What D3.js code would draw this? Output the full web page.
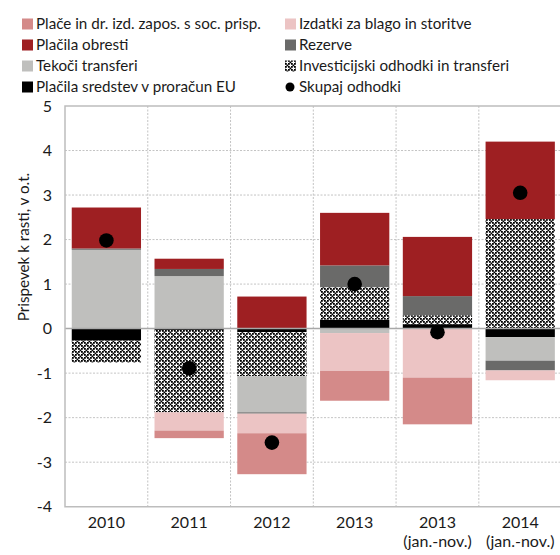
<!DOCTYPE html>
<html>
<head>
<meta charset="utf-8">
<script src="https://cdn.jsdelivr.net/npm/d3@7"></script>
<style>
  body { margin: 0; background: #fff; }
  svg { display: block; font-family: Lato, "Open Sans", sans-serif; }
</style>
</head>
<body>
<svg id="chart" width="560" height="555"></svg>
<script>
// Categories (years) and sub-labels
const categories = ["2010", "2011", "2012", "2013", "2013 jn", "2014 jn"];
const categoryLines = [["2010"], ["2011"], ["2012"], ["2013"], ["2013", "(jan.-nov.)"], ["2014", "(jan.-nov.)"]];

// Contributions to growth, percentage points (stacked from the baseline outward in this order)
const euPayments   = [-0.27, -0.03, -0.08,  0.20,  0.10, -0.19];
const investments  = [-0.49, -1.85, -0.99,  0.73,  0.20,  2.46];
const transfers    = [ 1.77,  1.18, -0.81, -0.10,  0.00, -0.53];
const reserves     = [ 0.03,  0.16, -0.03,  0.49,  0.43, -0.22];
const interest     = [ 0.92,  0.23,  0.72,  1.18,  1.33,  1.74];
const goods        = [ 0.00, -0.41, -0.44, -0.85, -1.10, -0.22];
const wages        = [ 0.00, -0.17, -0.92, -0.67, -1.05,  0.00];
const totalExpend  = [ 1.98, -0.89, -2.56,  1.00, -0.08,  3.05];

const yTicks = [5, 4, 3, 2, 1, 0, -1, -2, -3, -4];

const series = [
  { key: "eu",   name: "Plačila sredstev v proračun EU",     values: euPayments,  fill: "#000000" },
  { key: "inv",  name: "Investicijski odhodki in transferi", values: investments, fill: "url(#hatch)" },
  { key: "tek",  name: "Tekoči transferi",                   values: transfers,   fill: "#bfbfbd" },
  { key: "rez",  name: "Rezerve",                            values: reserves,    fill: "#6a6a69" },
  { key: "obr",  name: "Plačila obresti",                    values: interest,    fill: "#9e1f22" },
  { key: "izd",  name: "Izdatki za blago in storitve",       values: goods,       fill: "#ecc4c4" },
  { key: "pla",  name: "Plače in dr. izd. zapos. s soc. prisp.", values: wages,   fill: "#d48a89" }
];

const svg = d3.select("#chart");
const margin = { left: 65, top: 106, right: 561.6, bottom: 506.7 };

// Checkered pattern for investment spending
const defs = svg.append("defs");
const pat = defs.append("pattern").attr("id", "hatch")
  .attr("patternUnits", "userSpaceOnUse").attr("width", 6).attr("height", 6);
pat.append("rect").attr("width", 6).attr("height", 6).attr("fill", "#ffffff");
[[0,0],[3,0],[0,3],[3,3],[1.5,1.5],[4.5,4.5],[-1.5,4.5],[4.5,-1.5]].forEach(([px, py]) => {
  pat.append("rect").attr("x", px).attr("y", py).attr("width", 1.8).attr("height", 1.8).attr("fill", "#000");
});

const x = d3.scaleBand().domain(categories)
  .range([margin.left, margin.right])
  .paddingInner(0.163).paddingOuter(0.0815);
const y = d3.scaleLinear().domain([-4, 5]).range([margin.bottom, margin.top]);

// Horizontal grid
svg.append("g").selectAll("line").data(yTicks.filter(t => t !== 5 && t !== -4 && t !== 0)).join("line")
  .attr("x1", margin.left).attr("x2", 560)
  .attr("y1", d => y(d)).attr("y2", d => y(d))
  .attr("stroke", "#c4c4c4").attr("stroke-width", 1).attr("stroke-dasharray", "2,1.5");

// Vertical grid between categories
const step = x.step();
svg.append("g").selectAll("line").data(categories.slice(1)).join("line")
  .attr("x1", d => x(d) - step * x.paddingInner() / 2)
  .attr("x2", d => x(d) - step * x.paddingInner() / 2)
  .attr("y1", margin.top).attr("y2", margin.bottom)
  .attr("stroke", "#c4c4c4").attr("stroke-width", 1).attr("stroke-dasharray", "2,1.5");

// Stacked bars
const rows = categories.map((c, i) => {
  const r = { cat: c };
  series.forEach(s => { r[s.key] = s.values[i]; });
  return r;
});
const stack = d3.stack().keys(series.map(s => s.key)).offset(d3.stackOffsetDiverging);
const stacked = stack(rows);

svg.append("g").selectAll("g").data(stacked).join("g")
  .attr("fill", (d, i) => series[i].fill)
  .selectAll("rect").data(d => d).join("rect")
  .attr("x", d => x(d.data.cat))
  .attr("width", x.bandwidth())
  .attr("y", d => y(Math.max(d[0], d[1])))
  .attr("height", d => Math.abs(y(d[0]) - y(d[1])));

// Zero line
svg.append("line")
  .attr("x1", margin.left).attr("x2", 560)
  .attr("y1", y(0)).attr("y2", y(0))
  .attr("stroke", "#a8a8a8").attr("stroke-width", 1.5);

// Frame
svg.append("path")
  .attr("d", `M560,${margin.top}H${margin.left}V${margin.bottom}H560`)
  .attr("fill", "none").attr("stroke", "#bdbdbd").attr("stroke-width", 1.5);

// Total expenditure markers
svg.append("g").selectAll("circle").data(totalExpend).join("circle")
  .attr("cx", (d, i) => x(categories[i]) + x.bandwidth() / 2)
  .attr("cy", d => y(d))
  .attr("r", 7.3).attr("fill", "#000");

// Y axis labels
const yAxis = d3.axisLeft(y).tickValues(yTicks).tickFormat(d3.format("d")).tickSize(0).tickPadding(13);
const ya = svg.append("g").attr("transform", `translate(${margin.left},0)`).call(yAxis);
ya.select(".domain").remove();
ya.selectAll("text").attr("font-size", 16).attr("fill", "#1a1a1a")
  .attr("font-family", "Lato, sans-serif").text(d => d < 0 ? "-" + Math.abs(d) : d);

// X axis labels
const xl = svg.append("g");
categories.forEach((c, i) => {
  const t = xl.append("text")
    .attr("x", x(c) + x.bandwidth() / 2)
    .attr("y", 528)
    .attr("text-anchor", "middle").attr("font-size", 16).attr("fill", "#1a1a1a");
  categoryLines[i].forEach((line, j) => {
    t.append("tspan").attr("x", x(c) + x.bandwidth() / 2).attr("dy", j === 0 ? 0 : 19).text(line);
  });
});

// Y axis title
svg.append("text")
  .attr("transform", "translate(29,247) rotate(-90)")
  .attr("text-anchor", "middle").attr("font-size", 15.2).attr("fill", "#1a1a1a")
  .text("Prispevek k rasti, v o.t.");

// Legend
const legendItems = [
  { name: "Plače in dr. izd. zapos. s soc. prisp.", fill: "#d48a89", col: 0, row: 0 },
  { name: "Izdatki za blago in storitve",            fill: "#ecc4c4", col: 1, row: 0 },
  { name: "Plačila obresti",                          fill: "#9e1f22", col: 0, row: 1 },
  { name: "Rezerve",                                  fill: "#6a6a69", col: 1, row: 1 },
  { name: "Tekoči transferi",                         fill: "#bfbfbd", col: 0, row: 2 },
  { name: "Investicijski odhodki in transferi",      fill: "url(#hatch)", col: 1, row: 2 },
  { name: "Plačila sredstev v proračun EU",          fill: "#000000", col: 0, row: 3 },
  { name: "Skupaj odhodki",                           fill: "#000000", col: 1, row: 3, dot: true }
];
const colX = [22, 285];
const rowY = [24, 45, 66, 87];
const lg = svg.append("g");
legendItems.forEach(it => {
  const gx = colX[it.col], gy = rowY[it.row];
  if (it.dot) {
    lg.append("circle").attr("cx", gx + 5).attr("cy", gy).attr("r", 4.5).attr("fill", "#000");
  } else {
    lg.append("rect").attr("x", gx).attr("y", gy - 5.5).attr("width", 11).attr("height", 11).attr("fill", it.fill);
  }
  lg.append("text").attr("x", gx + 14).attr("y", gy).attr("dy", "0.35em")
    .attr("font-size", 15.2).attr("fill", "#1a1a1a").text(it.name);
});
</script>
</body>
</html>
